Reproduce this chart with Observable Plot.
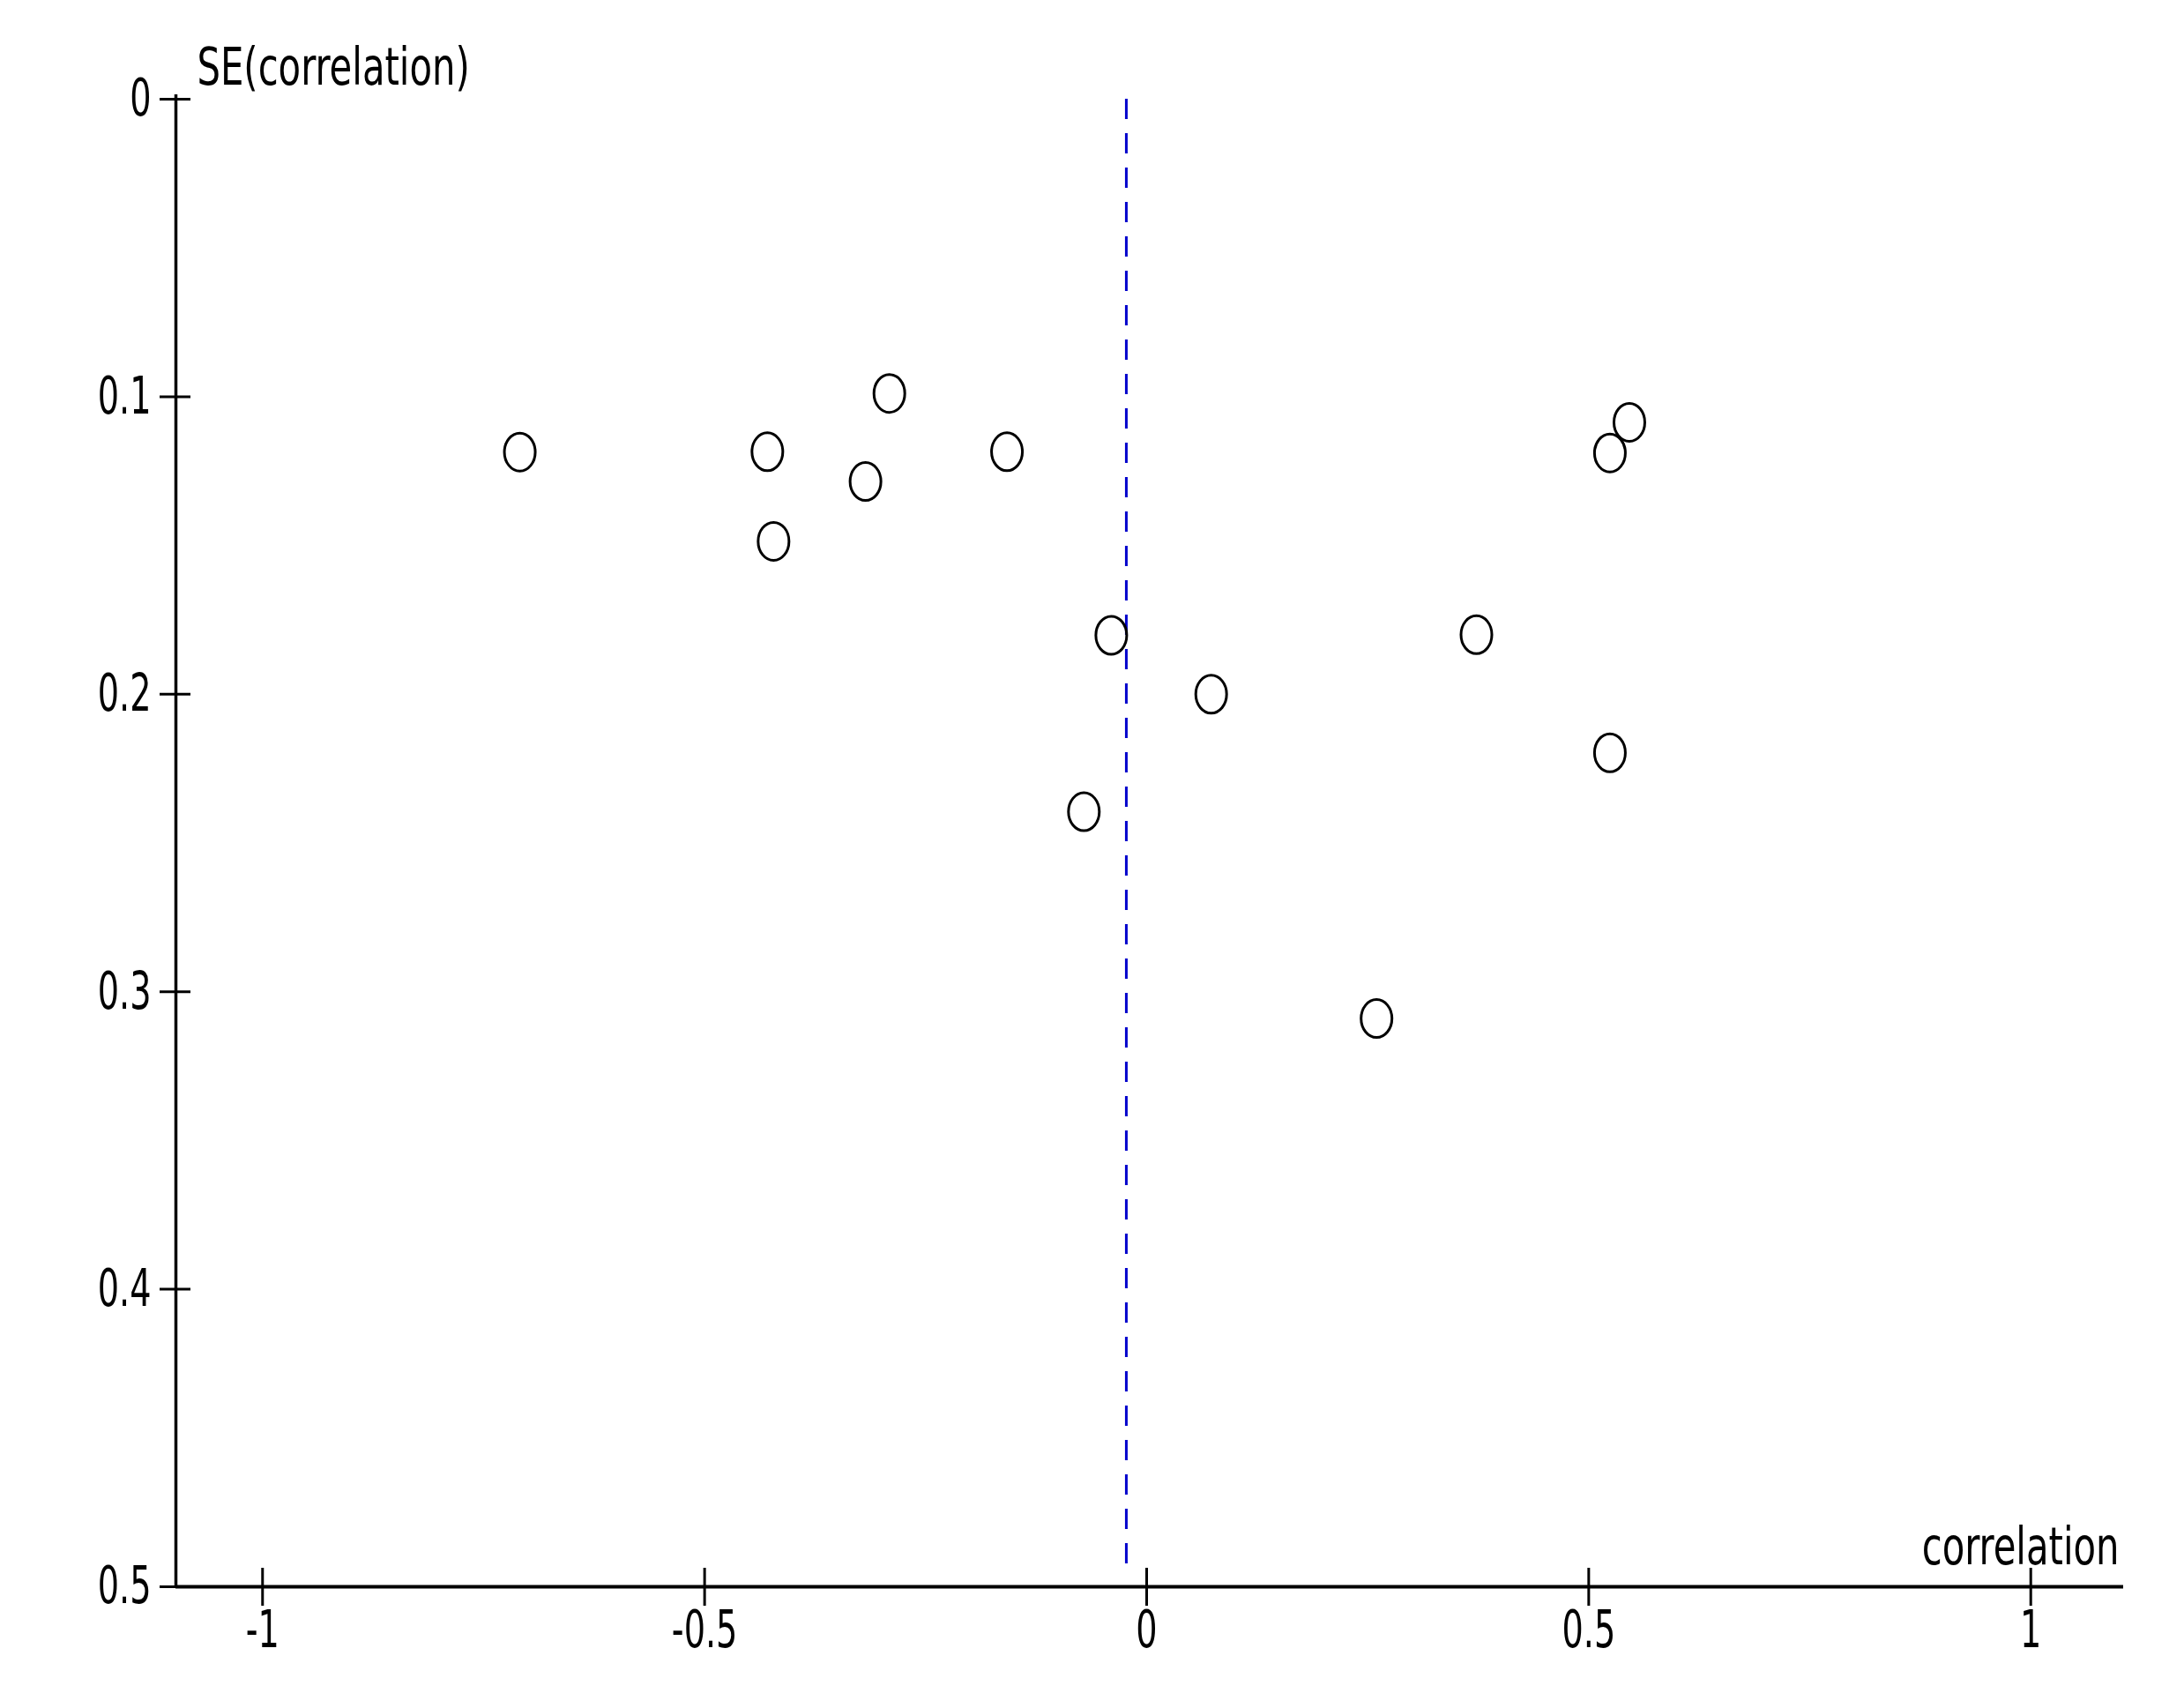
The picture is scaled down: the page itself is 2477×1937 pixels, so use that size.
<!DOCTYPE html>
<html>
<head>
<meta charset="utf-8">
<script src="https://cdn.jsdelivr.net/npm/d3@7"></script>
<script src="https://cdn.jsdelivr.net/npm/@observablehq/plot@0.6"></script>
<style>
  html, body { margin: 0; padding: 0; background: #ffffff; }
  #chart svg { display: block; }
</style>
</head>
<body>
<div id="chart"></div>
<script>
// Funnel plot data: study correlations and their standard errors
const correlation = [-0.709, -0.429, -0.422, -0.318, -0.291, -0.158, -0.040, -0.071, 0.073, 0.260, 0.373, 0.524, 0.524, 0.546];
const seCorrelation = [0.1186, 0.1185, 0.1486, 0.1285, 0.0989, 0.1185, 0.1802, 0.2395, 0.2000, 0.3090, 0.1800, 0.2197, 0.1189, 0.1086];
const pooledEstimate = -0.023;
const xTicks = [-1, -0.5, 0, 0.5, 1];
const yTicks = [0, 0.1, 0.2, 0.3, 0.4, 0.5];
const xTitle = "correlation";
const yTitle = "SE(correlation)";

const studies = correlation.map((c, i) => ({correlation: c, se: seCorrelation[i]}));

const xDomain = [-1.098, 1.105];
const yDomain = [0, 0.5];

// ellipse-shaped open marker
const ellipseSymbol = {
  draw(context) {
    const rx = 17.5, ry = 21.5, k = 0.5523;
    context.moveTo(rx, 0);
    context.bezierCurveTo(rx, k * ry, k * rx, ry, 0, ry);
    context.bezierCurveTo(-k * rx, ry, -rx, k * ry, -rx, 0);
    context.bezierCurveTo(-rx, -k * ry, -k * rx, -ry, 0, -ry);
    context.bezierCurveTo(k * rx, -ry, rx, -k * ry, rx, 0);
    context.closePath();
  }
};

const fontFamily = '"Liberation Sans Narrow", "DejaVu Sans Condensed", "Arial Narrow", sans-serif';

const chart = Plot.plot({
  width: 2477,
  height: 1937,
  marginLeft: 199,
  marginRight: 69,
  marginTop: 112,
  marginBottom: 138,
  style: {fontFamily, fontSize: "59px", color: "#000", background: "#fff", overflow: "visible"},
  x: {domain: xDomain},
  y: {domain: yDomain, reverse: true},
  marks: [
    // pooled estimate line
    Plot.ruleX([pooledEstimate], {y1: 0, y2: 0.495, stroke: "#0000cc", strokeWidth: 3, strokeDasharray: "23,16"}),
    // axis lines
    Plot.ruleX([xDomain[0]], {y1: -0.0015, y2: 0.5, stroke: "#000", strokeWidth: 3.5}),
    Plot.ruleY([0.5], {x1: xDomain[0], x2: xDomain[1], stroke: "#000", strokeWidth: 4}),
    Plot.axisY(yTicks, {
      anchor: "left", tickSize: 35, dx: 17, tickPadding: 10,
      strokeWidth: 3, label: null, tickFormat: d => String(d), fontSize: 59
    }),
    Plot.axisX(xTicks, {
      anchor: "bottom", tickSize: 43, dy: -21, tickPadding: 5,
      strokeWidth: 3, label: null, tickFormat: d => String(d), fontSize: 59
    }),
    Plot.dot(studies, {x: "correlation", y: "se", symbol: ellipseSymbol, r: 20, stroke: "#000", strokeWidth: 3, fill: "none"}),
    Plot.text([yTitle], {frameAnchor: "top-left", textAnchor: "start", lineAnchor: "bottom", dx: 24, dy: -17, fontSize: 58, fill: "#000"}),
    Plot.text([xTitle], {frameAnchor: "bottom-right", textAnchor: "end", lineAnchor: "bottom", dx: -5, dy: -26, fontSize: 58, fill: "#000"})
  ]
});

// narrow the glyphs horizontally to match the condensed reference font
chart.querySelectorAll("text").forEach(t => {
  const isTitle = t.textContent === xTitle || t.textContent === yTitle;
  const sx = isTitle ? 0.8 : 0.72;
  const tr = t.getAttribute("transform") || "";
  t.setAttribute("transform", `${tr} scale(${sx},1)`);
});

document.getElementById("chart").appendChild(chart);
</script>
</body>
</html>
